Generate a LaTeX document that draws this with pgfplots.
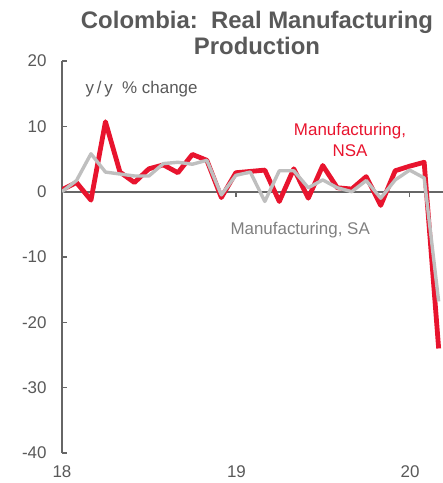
\documentclass[border=0pt]{standalone}
\usepackage{pgfplots}
\pgfplotsset{compat=1.18}
\usepackage{fontspec}
\setmainfont{Liberation Sans}
\definecolor{nsared}{RGB}{232,20,46}
\definecolor{sagray}{RGB}{191,191,191}
\definecolor{axgray}{RGB}{102,102,102}
\definecolor{txtgray}{RGB}{89,89,89}
\definecolor{lblgray}{RGB}{128,128,128}
\pgfplotstableread{
k red gray
0 0.3 0.0
1 1.4 1.7
2 -1.3 5.8
3 10.7 3.0
4 3.0 2.7
5 1.4 2.4
6 3.5 2.4
7 4.1 4.3
8 2.9 4.5
9 5.7 4.2
10 4.8 4.8
11 -0.9 -0.5
12 2.9 2.5
13 3.1 3.0
14 3.3 -1.5
15 -1.5 3.2
16 3.5 3.2
17 -1.0 0.6
18 4.0 1.8
19 0.6 0.6
20 0.4 0.0
21 2.3 1.7
22 -2.1 -1.0
23 3.2 1.8
24 3.9 3.3
25 4.5 2.1
26 -24.0 -16.8
}\datatable
\begin{document}
\begin{tikzpicture}
\path[use as bounding box] (-62bp,-30bp) rectangle (381bp,453bp);
\begin{axis}[
  at={(0,0)}, anchor=south west,
  scale only axis, width=381bp, height=392bp,
  xmin=0, xmax=26.3, ymin=-40, ymax=20,
  axis x line=none,
  axis y line*=left,
  y axis line style={draw=axgray, line width=1.6bp, -},
  ytick={-40,-30,...,20},
  xtick=\empty,
  ytick style={draw=axgray, line width=1.6bp},
  tick align=inside,
  major tick length=5bp,
  yticklabel style={font=\fontsize{17}{20}\selectfont, text=txtgray, xshift=-12bp},
  /pgf/number format/assume math mode=true,
  clip=true,
]
\draw[axgray, line width=1.8bp] (axis cs:0,0) -- (axis cs:26.3,0);
\draw[axgray, line width=1.6bp] (axis cs:12,0) -- ([yshift=-5bp]axis cs:12,0);
\draw[axgray, line width=1.6bp] (axis cs:24,0) -- ([yshift=-5bp]axis cs:24,0);
\addplot[nsared, line width=4.8bp, line join=round] table[x=k, y=red] {\datatable};
\addplot[sagray, line width=3.4bp, line join=round] table[x=k, y=gray] {\datatable};
\end{axis}
\begin{scope}[font=\fontsize{17}{20}\selectfont, text=txtgray]
\node[anchor=base] at (0bp,-24bp) {18};
\node[anchor=base] at (174.5bp,-24bp) {19};
\node[anchor=base] at (348bp,-24bp) {20};
\end{scope}
\node[anchor=base west, font=\fontsize{17}{20}\selectfont, text=txtgray] at (20bp,359bp) {y\,/\,y \ \% change};
\node[anchor=base, font=\fontsize{17}{20}\selectfont, text=nsared] at (288bp,317bp) {Manufacturing,};
\node[anchor=base, font=\fontsize{17}{20}\selectfont, text=nsared] at (288bp,296bp) {NSA};
\node[anchor=base west, font=\fontsize{17}{20}\selectfont, text=lblgray] at (165bp,218bp) {Manufacturing, SA};
\node[anchor=base, font=\bfseries\fontsize{24}{28}\selectfont, text=txtgray] at (195bp,424bp) {Colombia:\ \ Real Manufacturing};
\node[anchor=base, font=\bfseries\fontsize{24}{28}\selectfont, text=txtgray] at (195bp,398bp) {Production};
\end{tikzpicture}
\end{document}
